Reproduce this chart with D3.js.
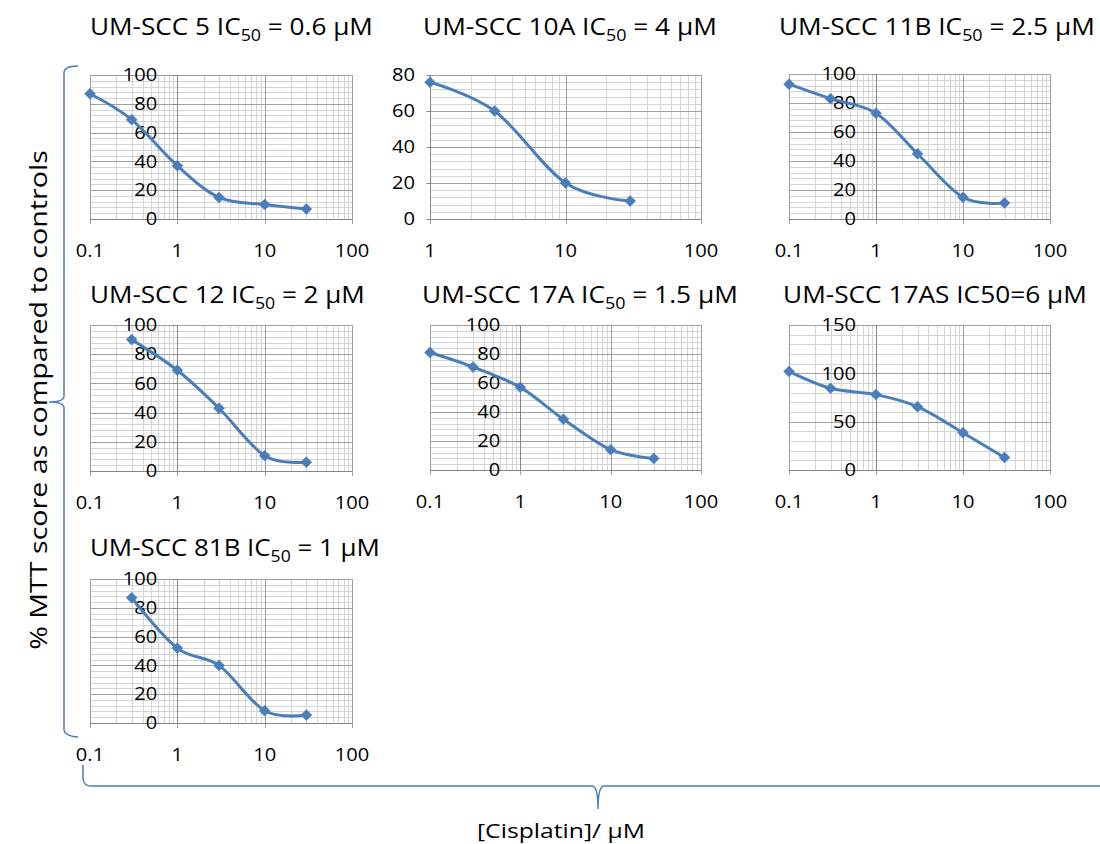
<!DOCTYPE html>
<html>
<head>
<meta charset="utf-8">
<script src="https://cdn.jsdelivr.net/npm/d3@7"></script>
<style>
  html, body { margin: 0; padding: 0; background: #fff; }
  svg { display: block; font-family: "Open Sans", Lato, sans-serif; }
</style>
</head>
<body>
<svg id="chart" width="1100" height="844"></svg>
<script>
// ---------------- DATA ----------------
const cellLines = ["UM-SCC 5", "UM-SCC 10A", "UM-SCC 11B", "UM-SCC 12", "UM-SCC 17A", "UM-SCC 17AS", "UM-SCC 81B"];
const ic50Values = ["0.6", "4", "2.5", "2", "1.5", "6", "1"];

const dose5    = [0.1, 0.3, 1, 3, 10, 30];
const mtt5     = [87, 69, 37, 15, 10, 7];
const dose10A  = [1, 3, 10, 30];
const mtt10A   = [76, 60, 20, 10];
const dose11B  = [0.1, 0.3, 1, 3, 10, 30];
const mtt11B   = [93, 83, 73, 45, 15, 11];
const dose12   = [0.3, 1, 3, 10, 30];
const mtt12    = [90, 69, 43, 10.5, 6];
const dose17A  = [0.1, 0.3, 1, 3, 10, 30];
const mtt17A   = [81, 71, 57, 35, 14, 8];
const dose17AS = [0.1, 0.3, 1, 3, 10, 30];
const mtt17AS  = [102, 84.5, 78, 65.5, 38.5, 13];
const dose81B  = [0.3, 1, 3, 10, 30];
const mtt81B   = [87, 52, 40, 8.5, 5.5];

const xTicksWide   = [0.1, 1, 10, 100];
const xTicksNarrow = [1, 10, 100];
const xTickLabels  = {0.1: "0.1", 1: "1", 10: "10", 100: "100"};
const yTicks100 = [0, 20, 40, 60, 80, 100];
const yTicks80  = [0, 20, 40, 60, 80];
const yTicks150 = [0, 50, 100, 150];

const yAxisTitle = "% MTT score as compared to controls";
const xAxisTitle = "[Cisplatin]/ \u00B5M";

// ---------------- LAYOUT / STYLE ----------------
const panels = [
  {name: cellLines[0], ic: ic50Values[0], sub: true,  dose: dose5,    mtt: mtt5,    xt: xTicksWide,   yt: yTicks100, minor: 4,  box: [90, 352, 75, 219],   labGap: 20, title: [90, 35, 283]},
  {name: cellLines[1], ic: ic50Values[1], sub: true,  dose: dose10A,  mtt: mtt10A,  xt: xTicksNarrow, yt: yTicks80,  minor: 4,  box: [430, 701, 75, 219],  labGap: 15, title: [423, 35, 294]},
  {name: cellLines[2], ic: ic50Values[2], sub: true,  dose: dose11B,  mtt: mtt11B,  xt: xTicksWide,   yt: yTicks100, minor: 4,  box: [789, 1050, 74, 219], labGap: 20, title: [779, 35, 316]},
  {name: cellLines[3], ic: ic50Values[3], sub: true,  dose: dose12,   mtt: mtt12,   xt: xTicksWide,   yt: yTicks100, minor: 4,  box: [90, 352, 325, 471],  labGap: 20, title: [90, 303, 275]},
  {name: cellLines[4], ic: ic50Values[4], sub: true,  dose: dose17A,  mtt: mtt17A,  xt: xTicksWide,   yt: yTicks100, minor: 4,  box: [430, 701, 325, 470], labGap: 20, title: [422, 303, 316]},
  {name: cellLines[5], ic: ic50Values[5], sub: false, dose: dose17AS, mtt: mtt17AS, xt: xTicksWide,   yt: yTicks150, minor: 10, box: [789, 1050, 325, 470], labGap: 20, title: [783, 303, 304]},
  {name: cellLines[6], ic: ic50Values[6], sub: true,  dose: dose81B,  mtt: mtt81B,  xt: xTicksWide,   yt: yTicks100, minor: 4,  box: [90, 352, 579, 723],  labGap: 20, title: [90, 556, 290]}
];

const blue = "#4a7ebb";
const minorCol = "#d4d4d4";
const majorCol = "#a0a0a0";
const axisCol = "#868686";
const textCol = "#000";
const tickStretch = 1.15;

const svg = d3.select("#chart");

function stretch(sel, s) {
  sel.each(function() {
    const ax = +this.getAttribute("x");
    this.setAttribute("transform", `translate(${ax},0) scale(${s},1) translate(${-ax},0)`);
  });
}
function fitWidth(sel, target) {
  const w = sel.node().getBBox().width;
  stretch(sel, target / w);
}

panels.forEach(p => {
  const [x0, x1, y0, y1] = p.box;
  const xDom = [p.xt[0], p.xt[p.xt.length - 1]];
  const yMax = p.yt[p.yt.length - 1];
  const x = d3.scaleLog().domain(xDom).range([x0, x1]);
  const y = d3.scaleLinear().domain([0, yMax]).range([y1, y0]);
  const g = svg.append("g");

  const minorX = [];
  for (let i = 0; i < p.xt.length - 1; i++) {
    for (let k = 2; k <= 9; k++) minorX.push(p.xt[i] * k);
  }
  g.append("g").selectAll("line").data(minorX).join("line")
    .attr("x1", d => Math.round(x(d)) + 0.5).attr("x2", d => Math.round(x(d)) + 0.5)
    .attr("y1", y(yMax)).attr("y2", y(0))
    .attr("stroke", minorCol).attr("stroke-width", 1);

  const minorY = d3.range(0, yMax + 0.001, p.minor).filter(v => !p.yt.includes(v));
  g.append("g").selectAll("line").data(minorY).join("line")
    .attr("x1", x0).attr("x2", x1)
    .attr("y1", d => Math.round(y(d)) + 0.5).attr("y2", d => Math.round(y(d)) + 0.5)
    .attr("stroke", minorCol).attr("stroke-width", 1);

  g.append("g").selectAll("line").data(p.yt.filter(v => v > 0)).join("line")
    .attr("x1", x0).attr("x2", x1)
    .attr("y1", d => Math.round(y(d)) + 0.5).attr("y2", d => Math.round(y(d)) + 0.5)
    .attr("stroke", majorCol).attr("stroke-width", 1);

  g.append("g").selectAll("line").data(p.xt).join("line")
    .attr("x1", d => Math.round(x(d)) + 0.5).attr("x2", d => Math.round(x(d)) + 0.5)
    .attr("y1", y(yMax)).attr("y2", y(0) + 5)
    .attr("stroke", majorCol).attr("stroke-width", 1);

  g.append("line")
    .attr("x1", x0).attr("x2", x1)
    .attr("y1", Math.round(y(0)) + 0.5).attr("y2", Math.round(y(0)) + 0.5)
    .attr("stroke", axisCol).attr("stroke-width", 1);

  const cx = Math.round(x(1)) + 0.5;
  g.append("line")
    .attr("x1", cx).attr("x2", cx)
    .attr("y1", y(yMax)).attr("y2", y(0))
    .attr("stroke", axisCol).attr("stroke-width", 1);
  g.append("g").selectAll("line").data(p.yt).join("line")
    .attr("x1", cx - 4).attr("x2", cx)
    .attr("y1", d => Math.round(y(d)) + 0.5).attr("y2", d => Math.round(y(d)) + 0.5)
    .attr("stroke", axisCol);

  const yl = g.append("g").selectAll("text").data(p.yt).join("text")
    .attr("x", x(1) - p.labGap).attr("y", d => y(d))
    .attr("text-anchor", "end").attr("dy", "0.36em")
    .attr("font-size", 17.5).attr("fill", textCol)
    .text(d => d);
  stretch(yl, tickStretch);

  const xl = g.append("g").selectAll("text").data(p.xt).join("text")
    .attr("x", d => x(d)).attr("y", y1 + 38)
    .attr("text-anchor", "middle")
    .attr("font-size", 17.5).attr("fill", textCol)
    .text(d => xTickLabels[d]);
  stretch(xl, tickStretch);

  const pts = p.dose.map((d, i) => [d, p.mtt[i]]);
  const line = d3.line().x(d => x(d[0])).y(d => y(d[1])).curve(d3.curveCardinal.tension(0));
  g.append("path").datum(pts)
    .attr("d", line)
    .attr("fill", "none").attr("stroke", blue).attr("stroke-width", 3)
    .attr("stroke-linejoin", "round").attr("stroke-linecap", "round");

  g.append("g").selectAll("path").data(pts).join("path")
    .attr("transform", d => `translate(${x(d[0])},${y(d[1])}) rotate(45)`)
    .attr("d", d3.symbol(d3.symbolSquare, 60))
    .attr("fill", blue).attr("stroke", blue).attr("stroke-width", 0.5);

  const t = svg.append("text")
    .attr("x", p.title[0]).attr("y", p.title[1])
    .attr("font-size", 23.5).attr("fill", textCol);
  if (p.sub) {
    t.append("tspan").text(p.name + " IC");
    t.append("tspan").attr("font-size", 16).attr("dy", 6).text("50");
    t.append("tspan").attr("dy", -6).text(" = " + p.ic + " \u00B5M");
  } else {
    t.append("tspan").text(p.name + " IC50=" + p.ic + " \u00B5M");
  }
  fitWidth(t, p.title[2]);
});

// braces
const leftBrace = d3.path();
leftBrace.moveTo(78, 66);
leftBrace.quadraticCurveTo(64, 66, 64, 73);
leftBrace.lineTo(64, 396);
leftBrace.quadraticCurveTo(64, 402, 49, 402);
leftBrace.quadraticCurveTo(64, 402, 64, 408);
leftBrace.lineTo(64, 729);
leftBrace.quadraticCurveTo(64, 736, 78, 737);
svg.append("path").attr("d", leftBrace.toString())
  .attr("fill", "none").attr("stroke", blue).attr("stroke-width", 1.5);

const bottomBrace = d3.path();
bottomBrace.moveTo(83, 765);
bottomBrace.lineTo(83, 779);
bottomBrace.quadraticCurveTo(84, 786, 91, 786);
bottomBrace.lineTo(592, 786);
bottomBrace.quadraticCurveTo(598, 786, 598, 809);
bottomBrace.quadraticCurveTo(598, 786, 604, 786);
bottomBrace.lineTo(1100, 786);
svg.append("path").attr("d", bottomBrace.toString())
  .attr("fill", "none").attr("stroke", blue).attr("stroke-width", 1.5);

// axis titles
const yt = svg.append("g").attr("transform", "translate(47,400) rotate(-90)")
  .append("text")
  .attr("x", 0).attr("y", 0)
  .attr("text-anchor", "middle").attr("font-size", 23).attr("fill", textCol)
  .text(yAxisTitle);
fitWidth(yt, 500);

const xt = svg.append("text")
  .attr("x", 561).attr("y", 838)
  .attr("text-anchor", "middle").attr("font-size", 20).attr("fill", textCol)
  .text(xAxisTitle);
fitWidth(xt, 168);
</script>
</body>
</html>
